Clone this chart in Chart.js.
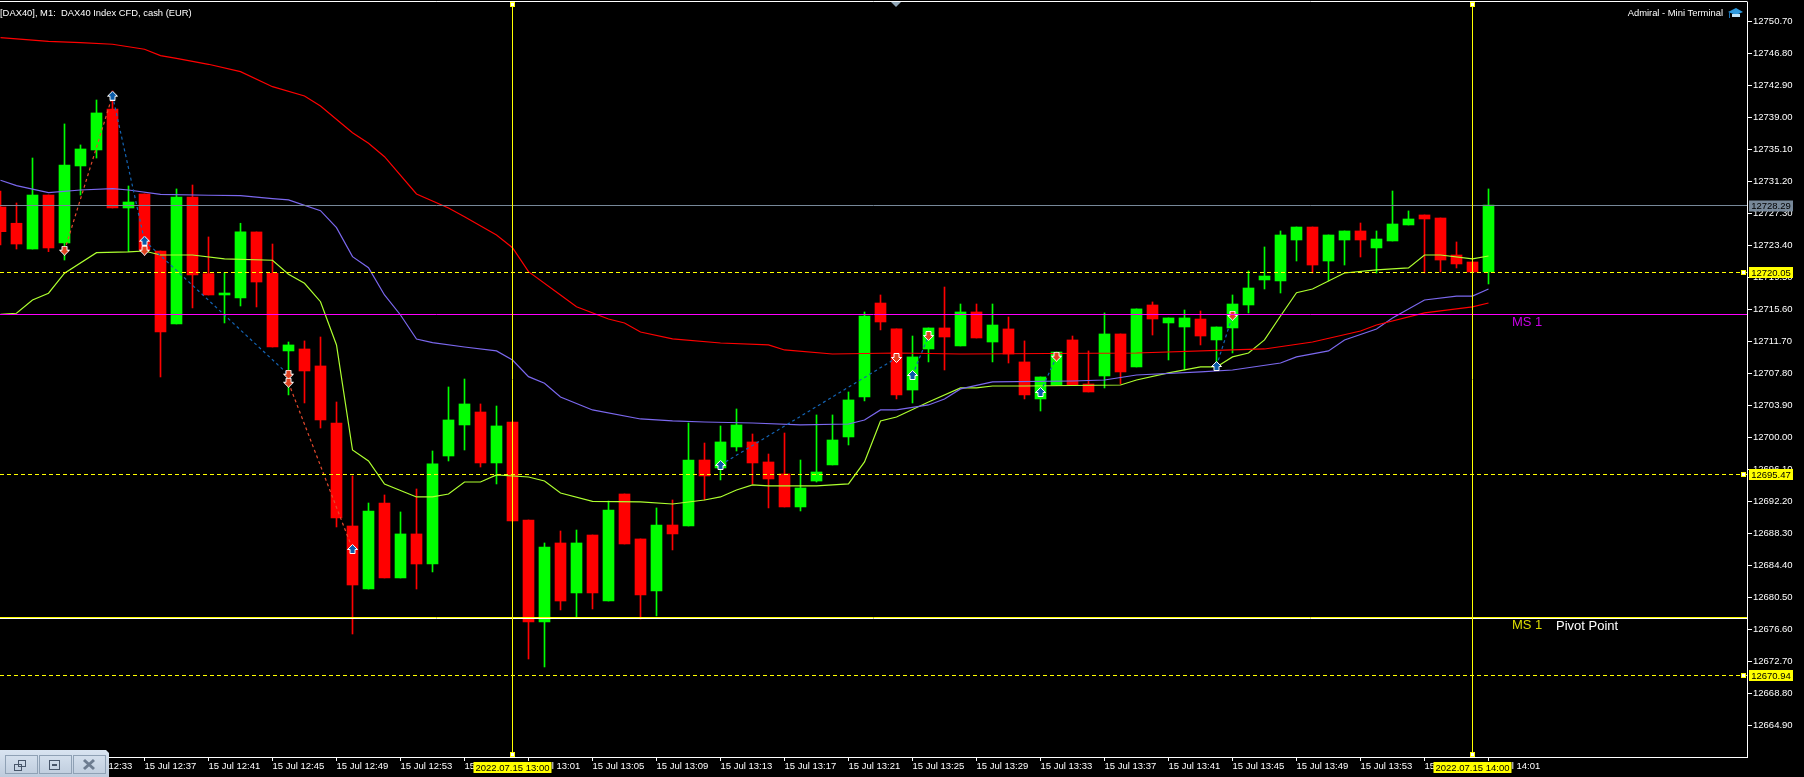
<!DOCTYPE html>
<html>
<head>
<meta charset="utf-8">
<title>DAX40 M1</title>
<script src="https://cdn.jsdelivr.net/npm/chart.js@4/dist/chart.umd.min.js"></script>
<style>
  html, body { margin: 0; padding: 0; background: #000; overflow: hidden; }
  #box { position: relative; width: 1804px; height: 777px; }
</style>
</head>
<body>
<div id="box"><canvas id="grafico"></canvas></div>
<script>
// minutes of the candles
const times = [
  '12:28','12:29','12:30','12:31','12:32','12:33','12:34','12:35','12:36','12:37',
  '12:38','12:39','12:40','12:41','12:42','12:43','12:44','12:45','12:46','12:47',
  '12:48','12:49','12:50','12:51','12:52','12:53','12:54','12:55','12:56','12:57',
  '12:58','12:59','13:00','13:01','13:02','13:03','13:04','13:05','13:06','13:07',
  '13:08','13:09','13:10','13:11','13:12','13:13','13:14','13:15','13:16','13:17',
  '13:18','13:19','13:20','13:21','13:22','13:23','13:24','13:25','13:26','13:27',
  '13:28','13:29','13:30','13:31','13:32','13:33','13:34','13:35','13:36','13:37',
  '13:38','13:39','13:40','13:41','13:42','13:43','13:44','13:45','13:46','13:47',
  '13:48','13:49','13:50','13:51','13:52','13:53','13:54','13:55','13:56','13:57',
  '13:58','13:59','14:00','14:01'
];
const opens = [
  12728.07,12726.09,12722.95,12729.53,12723.68,12733.07,12735.02,12740.01,12727.95,12729.66,
  12722.71,12713.82,12729.29,12719.95,12717.35,12716.99,12725.03,12720.00,12710.53,12710.77,
  12708.70,12701.75,12689.20,12681.52,12692.00,12682.87,12688.23,12684.57,12697.73,12701.51,
  12703.09,12696.88,12701.87,12689.93,12677.50,12687.13,12681.04,12688.10,12680.06,12693.10,
  12687.62,12681.28,12689.32,12689.20,12697.24,12696.27,12698.83,12699.44,12697.00,12695.54,
  12691.52,12694.68,12696.64,12700.05,12704.92,12716.37,12713.21,12705.77,12710.77,12713.33,
  12711.14,12715.28,12711.62,12713.21,12709.19,12704.68,12706.38,12711.87,12706.50,12707.48,
  12712.60,12708.58,12716.13,12713.94,12713.45,12714.42,12711.87,12713.33,12716.13,12719.18,
  12719.06,12724.05,12725.63,12721.49,12724.05,12725.15,12723.08,12723.93,12725.88,12727.10,
  12726.73,12722.22,12721.37,12720.15
];
const highs = [
  12730.02,12728.56,12734.04,12729.53,12738.19,12735.63,12741.11,12742.21,12730.63,12729.66,
  12722.71,12730.27,12730.75,12724.42,12720.07,12726.09,12725.03,12723.56,12711.62,12711.75,
  12712.23,12704.31,12695.30,12692.00,12692.98,12690.91,12693.71,12698.34,12706.14,12707.11,
  12704.07,12703.82,12701.87,12689.93,12687.13,12688.59,12688.71,12688.10,12692.24,12693.10,
  12687.62,12691.40,12692.37,12701.75,12699.31,12701.39,12703.46,12700.41,12697.97,12700.53,
  12697.24,12702.73,12702.73,12705.53,12715.28,12717.35,12713.21,12712.35,12713.33,12718.32,
  12716.25,12716.25,12716.25,12714.67,12711.75,12707.36,12710.40,12712.35,12710.53,12715.16,
  12712.60,12715.65,12716.50,12714.55,12715.52,12715.40,12713.45,12717.35,12720.27,12723.20,
  12725.15,12725.63,12725.63,12724.66,12725.15,12726.12,12725.15,12730.02,12727.59,12727.10,
  12726.73,12723.81,12721.37,12730.27
];
const lows = [
  12723.44,12722.95,12722.95,12722.63,12721.61,12729.53,12734.04,12727.95,12722.63,12722.22,
  12707.36,12713.82,12715.77,12717.35,12713.94,12716.01,12715.89,12711.01,12705.17,12704.19,
  12701.14,12689.08,12676.04,12681.52,12682.87,12682.87,12681.52,12683.60,12697.12,12698.46,
  12696.39,12694.32,12689.81,12672.99,12672.02,12678.97,12678.11,12679.09,12680.06,12687.01,
  12677.87,12678.24,12686.28,12689.20,12692.37,12694.81,12698.34,12694.32,12691.40,12691.52,
  12691.03,12694.56,12696.64,12699.07,12704.44,12713.09,12704.68,12704.19,12709.19,12708.21,
  12711.14,12712.11,12709.19,12709.06,12704.68,12703.21,12706.38,12706.38,12705.53,12706.02,
  12706.50,12708.58,12712.47,12709.43,12708.21,12711.26,12708.21,12710.28,12715.16,12718.08,
  12717.59,12721.49,12720.03,12719.06,12721.00,12721.98,12720.03,12723.93,12725.88,12720.03,
  12720.15,12720.64,12720.15,12718.69
];
const closes = [
  12725.06,12723.56,12729.53,12723.08,12733.19,12735.14,12739.53,12727.95,12728.68,12722.83,
  12712.84,12729.29,12719.79,12717.35,12717.59,12725.03,12718.93,12711.01,12711.26,12708.09,
  12702.12,12690.18,12682.01,12691.03,12682.87,12688.23,12684.57,12696.76,12702.12,12704.07,
  12696.88,12701.39,12689.81,12677.50,12686.64,12680.06,12687.13,12681.04,12691.15,12687.01,
  12680.80,12689.32,12688.23,12697.24,12695.30,12699.44,12701.51,12696.88,12694.93,12691.52,
  12693.83,12695.78,12699.68,12704.56,12714.79,12714.06,12705.17,12709.80,12713.33,12712.23,
  12715.28,12712.11,12713.69,12710.16,12705.17,12707.36,12710.40,12706.38,12705.53,12712.60,
  12707.97,12715.65,12714.42,12714.55,12714.55,12712.35,12713.45,12716.25,12718.20,12719.66,
  12724.66,12725.63,12721.00,12724.66,12725.15,12724.05,12724.17,12726.00,12726.61,12726.61,
  12721.61,12721.13,12720.15,12728.29
];

// moving averages, read at the bends only (minute index, price)
const slowMaX = [0,3,5,7,9,10,11,13,15,17,19,20,22,23,24,26,28,29,31,32,33,35,36,38,39,40,42,45,48,49,52,56,60,71,77,79,82,85,86,89,92,93];
const slowMaY = [12748.70,12748.26,12748.09,12747.90,12747.29,12746.51,12746.19,12745.46,12744.56,12742.73,12741.60,12740.38,12737.13,12735.83,12734.20,12729.66,12727.95,12726.89,12724.66,12723.11,12720.19,12717.35,12715.92,12714.42,12713.94,12712.84,12711.99,12711.50,12711.26,12710.65,12710.16,12710.28,12710.16,12710.28,12710.65,12710.77,12711.62,12712.96,12713.69,12715.16,12715.89,12716.37];
const midMaX = [0,1,3,5,7,8,10,13,15,17,18,20,21,22,23,24,25,26,27,29,31,32,33,34,35,37,40,42,44,47,50,53,54,55,56,58,59,60,62,67,69,71,75,77,80,81,83,84,86,87,89,91,92,93];
const midMaY = [12731.33,12730.67,12729.82,12730.14,12730.30,12730.14,12729.62,12729.50,12729.45,12729.09,12728.93,12727.62,12725.55,12722.02,12720.68,12717.35,12714.91,12711.99,12711.54,12711.01,12710.53,12709.43,12707.40,12706.59,12704.92,12703.34,12702.24,12702.00,12701.87,12701.75,12701.51,12701.63,12702.12,12703.34,12703.34,12703.95,12704.68,12705.90,12706.75,12706.87,12706.99,12707.60,12707.97,12708.21,12709.06,12709.80,12710.53,12711.87,12713.21,12714.55,12716.74,12717.22,12717.22,12718.08];
const fastMaX = [0,1,2,3,4,6,8,9,10,12,14,17,18,19,20,21,22,23,24,26,27,28,29,30,31,33,34,35,37,40,42,44,45,46,47,48,51,53,54,55,56,58,60,61,62,64,70,71,73,75,76,77,78,79,80,81,82,84,86,88,89,90,92,93];
const fastMaY = [12715.00,12715.12,12716.74,12717.56,12720.00,12722.50,12722.59,12722.71,12722.22,12722.22,12721.74,12721.58,12719.87,12718.78,12716.53,12711.26,12698.46,12697.12,12694.32,12692.74,12692.74,12693.10,12694.56,12694.56,12695.42,12695.17,12694.68,12693.22,12692.19,12692.13,12691.88,12692.37,12692.74,12693.59,12694.20,12694.08,12694.08,12694.32,12697.00,12702.00,12702.48,12704.31,12706.02,12706.02,12706.26,12706.26,12706.38,12706.99,12707.85,12708.58,12708.58,12709.80,12710.28,12711.87,12714.79,12717.63,12718.08,12720.03,12720.40,12720.64,12722.22,12722.22,12721.74,12722.10];

// arrows of the signal indicator
const upArrowX = [7,9,22,45,57,65,76];
const upArrowY = [12741.64,12723.97,12686.40,12696.64,12707.60,12705.53,12708.70];
const downArrowX = [4,9,18,18,56,58,66,77];
const downArrowY = [12722.75,12722.75,12707.64,12706.66,12709.67,12712.35,12709.83,12714.82];

// dashed zigzags between the arrows
const blueZigzags = [
  { x: [7,9], y: [12741.64,12723.97] },
  { x: [9,18], y: [12723.97,12707.64] },
  { x: [45,56], y: [12696.64,12709.67] },
  { x: [57,58], y: [12707.60,12712.35] },
  { x: [65,66], y: [12705.53,12709.83] },
  { x: [76,77], y: [12708.70,12714.82] }
];
const redZigzags = [
  { x: [4,7], y: [12722.75,12741.64] },
  { x: [18,22], y: [12706.66,12686.40] }
];

// price lines
const dashedLevels = [12720.05, 12695.47, 12670.94];
const dashedLevelTexts = ['12720.05', '12695.47', '12670.94'];
const bidLevel = 12728.29;
const bidLevelText = '12728.29';
const ms1Level = 12715.00;
const pivotLevel = 12678.03;
const verticalMinutes = [32, 92];
const verticalTexts = ['2022.07.15 13:00', '2022.07.15 14:00'];

// axis ticks
const priceTicks = [12750.70,12746.80,12742.90,12739.00,12735.10,12731.20,12727.30,12723.40,12719.50,12715.60,12711.70,12707.80,12703.90,12700.00,12696.10,12692.20,12688.30,12684.40,12680.50,12676.60,12672.70,12668.80,12664.90];
const timeTicks = [1,5,9,13,17,21,25,29,33,37,41,45,49,53,57,61,65,69,73,77,81,85,89,93];

const FONT = '"Liberation Sans", Arial, sans-serif';
const GREEN = '#00ff00';
const RED = '#ff0000';
const YELLOW = '#ffff00';

const candleColors = closes.map((c, i) => (c >= opens[i] ? GREEN : RED));

// arrow icons used as point style
function makeArrow(color, up) {
  const c = document.createElement('canvas');
  c.width = 11;
  c.height = 10;
  const g = c.getContext('2d');
  if (!up) { g.translate(0, 10); g.scale(1, -1); }
  g.beginPath();
  g.moveTo(5.5, 0.5);
  g.lineTo(10.5, 5.5);
  g.lineTo(8, 5.5);
  g.lineTo(8, 9.5);
  g.lineTo(3, 9.5);
  g.lineTo(3, 5.5);
  g.lineTo(0.5, 5.5);
  g.closePath();
  g.fillStyle = color;
  g.fill();
  g.strokeStyle = '#fff';
  g.lineWidth = 1;
  g.stroke();
  return c;
}

const pairs = (xs, ys) => xs.map((x, i) => ({ x, y: ys[i] }));

function maLine(xs, ys, color) {
  return { type: 'line', data: pairs(xs, ys), borderColor: color, borderWidth: 1.2, pointRadius: 0, tension: 0, order: 2 };
}

function zigzagLine(z, color) {
  return { type: 'line', data: pairs(z.x, z.y), borderColor: color, borderWidth: 1.2, borderDash: [3, 3], pointRadius: 0, tension: 0, order: 1 };
}

function arrowSet(xs, ys, icon) {
  return { type: 'line', data: pairs(xs, ys), showLine: false, pointStyle: icon, pointRadius: 5, order: 0 };
}

// small yellow square handle on the objects
function handle(ctx, x, y) {
  ctx.fillStyle = YELLOW;
  ctx.fillRect(x - 2.5, y - 2.5, 5, 5);
  ctx.fillStyle = '#fff';
  ctx.fillRect(x - 1.5, y - 1.5, 3, 3);
}

function tag(ctx, text, x, y, w, h, bg) {
  ctx.fillStyle = bg;
  ctx.fillRect(x, y, w, h);
  ctx.fillStyle = '#000';
  ctx.textAlign = 'center';
  ctx.textBaseline = 'middle';
  ctx.fillText(text, x + w / 2, y + h / 2 + 0.5);
}

// price lines, vertical lines, handles over the candles
const linhasPlugin = {
  id: 'linhas',
  afterDatasetsDraw(chart) {
    const { ctx, chartArea: a, scales } = chart;
    const py = (v) => Math.floor(scales.y.getPixelForValue(v)) + 0.5;
    const hline = (y, color, dash) => {
      ctx.strokeStyle = color;
      ctx.lineWidth = 1;
      ctx.setLineDash(dash || []);
      ctx.beginPath();
      ctx.moveTo(a.left, y);
      ctx.lineTo(a.right, y);
      ctx.stroke();
      ctx.setLineDash([]);
    };
    ctx.save();
    hline(py(bidLevel), '#778899');
    hline(py(ms1Level), '#ff00ff');
    // the pivot line is selected: yellow row with a white row under it
    hline(py(pivotLevel), YELLOW);
    hline(py(pivotLevel) + 1, '#ffffff');
    dashedLevels.forEach((v) => hline(py(v), YELLOW, [4, 3]));
    verticalMinutes.forEach((m) => {
      const x = Math.floor(scales.x.getPixelForValue(m)) + 0.5;
      ctx.strokeStyle = YELLOW;
      ctx.beginPath();
      ctx.moveTo(x, a.top);
      ctx.lineTo(x, a.bottom);
      ctx.stroke();
      handle(ctx, x, 4.5);
      handle(ctx, x, 754.5);
    });
    dashedLevels.forEach((v) => handle(ctx, 1743.5, py(v)));

    ctx.font = '13px ' + FONT;
    ctx.textAlign = 'left';
    ctx.textBaseline = 'middle';
    ctx.fillStyle = '#c800e6';
    ctx.fillText('MS 1', 1512, 322.5);
    ctx.fillStyle = '#dcdc00';
    ctx.fillText('MS 1', 1512, 625);
    ctx.fillStyle = '#ffffff';
    ctx.fillText('Pivot Point', 1556, 626);
    ctx.restore();
  },
  afterDraw(chart) {
    const { ctx, chartArea: a, scales } = chart;
    const py = (v) => Math.floor(scales.y.getPixelForValue(v)) + 0.5;
    ctx.save();
    // top border
    ctx.strokeStyle = '#fff';
    ctx.lineWidth = 1;
    ctx.beginPath();
    ctx.moveTo(0, 1.5);
    ctx.lineTo(a.right + 0.5, 1.5);
    ctx.stroke();

    // little triangle of the chart shift
    ctx.fillStyle = '#8fa5b5';
    ctx.beginPath();
    ctx.moveTo(891, 2);
    ctx.lineTo(901, 2);
    ctx.lineTo(896, 7);
    ctx.closePath();
    ctx.fill();

    ctx.font = '9.4px ' + FONT;
    ctx.fillStyle = '#fff';
    ctx.textBaseline = 'middle';
    ctx.textAlign = 'left';
    ctx.fillText('[DAX40], M1:  DAX40 Index CFD, cash (EUR)', 0, 13);
    ctx.textAlign = 'right';
    ctx.fillText('Admiral - Mini Terminal', 1723, 13);

    // graduation cap
    ctx.fillStyle = '#2f9be0';
    ctx.beginPath();
    ctx.moveTo(1728, 12);
    ctx.lineTo(1736, 8);
    ctx.lineTo(1743, 12);
    ctx.lineTo(1736, 15);
    ctx.closePath();
    ctx.fill();
    ctx.fillStyle = '#bfe4fa';
    ctx.fillRect(1732, 14, 8, 3);
    ctx.fillStyle = '#1a6fb0';
    ctx.fillRect(1729, 12, 1, 6);

    // tags on the axes
    ctx.font = '9.5px ' + FONT;
    tag(ctx, bidLevelText, 1749, py(bidLevel) - 5, 44, 11, '#778899');
    dashedLevels.forEach((v, i) => tag(ctx, dashedLevelTexts[i], 1749, py(v) - 5.5, 44, 11, YELLOW));
    verticalMinutes.forEach((m, i) => {
      const x = scales.x.getPixelForValue(m);
      tag(ctx, verticalTexts[i], x - 39, 762, 78, 11, YELLOW);
    });

    // minimized terminal window in the corner
    const grad = ctx.createLinearGradient(0, 750, 0, 777);
    grad.addColorStop(0, '#d9e4f1');
    grad.addColorStop(1, '#bdcbdc');
    ctx.fillStyle = grad;
    ctx.beginPath();
    ctx.moveTo(0, 750);
    ctx.lineTo(106, 750);
    ctx.lineTo(109, 753);
    ctx.lineTo(109, 777);
    ctx.lineTo(0, 777);
    ctx.closePath();
    ctx.fill();
    [[5, 32], [39, 32], [73, 32]].forEach(([x, w]) => {
      ctx.strokeStyle = '#8fa1b5';
      ctx.strokeRect(x + 0.5, 755.5, w, 18);
    });
    ctx.strokeStyle = '#48566a';
    ctx.strokeRect(14.5, 764.5, 7, 6);
    ctx.strokeRect(18.5, 760.5, 7, 6);
    ctx.strokeRect(49.5, 760.5, 10, 9);
    ctx.fillStyle = '#48566a';
    ctx.fillRect(52, 764, 5, 2);
    ctx.lineWidth = 3;
    ctx.strokeStyle = '#6d7c90';
    ctx.beginPath();
    ctx.moveTo(84, 760);
    ctx.lineTo(94, 769);
    ctx.moveTo(94, 760);
    ctx.lineTo(84, 769);
    ctx.stroke();
    ctx.restore();
  }
};

new Chart(document.getElementById('grafico'), {
  type: 'bar',
  plugins: [linhasPlugin],
  data: {
    datasets: [
      // wicks
      {
        data: times.map((t, i) => ({ x: i, y: [lows[i], highs[i]] })),
        backgroundColor: candleColors,
        barThickness: 1,
        grouped: false,
        order: 5
      },
      // bodies
      {
        data: times.map((t, i) => ({ x: i, y: [Math.min(opens[i], closes[i]), Math.max(opens[i], closes[i])] })),
        backgroundColor: candleColors,
        barThickness: 11,
        grouped: false,
        order: 4
      },
      maLine(slowMaX, slowMaY, '#ff0000'),
      maLine(midMaX, midMaY, '#7b68ee'),
      maLine(fastMaX, fastMaY, '#adff2f'),
      ...blueZigzags.map((z) => zigzagLine(z, '#1464b4')),
      ...redZigzags.map((z) => zigzagLine(z, '#e6492d')),
      arrowSet(upArrowX, upArrowY, makeArrow('#0a5aa8', true)),
      arrowSet(downArrowX, downArrowY, makeArrow('#e0401e', false))
    ]
  },
  options: {
    responsive: true,
    maintainAspectRatio: false,
    devicePixelRatio: 1,
    animation: false,
    events: [],
    layout: { autoPadding: false, padding: { top: 2, left: 0, right: 0, bottom: 0 } },
    plugins: { legend: { display: false }, tooltip: { enabled: false } },
    scales: {
      x: {
        type: 'linear',
        offset: false,
        min: -0.03125,
        max: 109.156,
        afterFit: (s) => { s.height = 20; s.paddingLeft = 0; s.paddingRight = 0; },
        afterBuildTicks: (s) => { s.ticks = timeTicks.map((value) => ({ value })); },
        grid: { drawOnChartArea: false, color: '#fff', tickLength: 4, offset: false },
        border: { color: '#fff' },
        ticks: {
          color: '#fff',
          autoSkip: false,
          maxRotation: 0,
          align: 'start',
          padding: 0,
          font: { family: FONT, size: 9.5 },
          callback: (v) => '15 Jul ' + times[v]
        }
      },
      y: {
        position: 'right',
        min: 12661.05,
        max: 12753.05,
        afterFit: (s) => { s.width = 57; s.paddingTop = 0; s.paddingBottom = 0; },
        afterBuildTicks: (s) => { s.ticks = priceTicks.map((value) => ({ value })); },
        grid: { drawOnChartArea: false, color: '#fff', tickLength: 5 },
        border: { color: '#fff' },
        ticks: {
          color: '#fff',
          autoSkip: false,
          padding: 1,
          font: { family: FONT, size: 9.5 },
          callback: (v) => v.toFixed(2)
        }
      }
    }
  }
});
</script>
</body>
</html>
